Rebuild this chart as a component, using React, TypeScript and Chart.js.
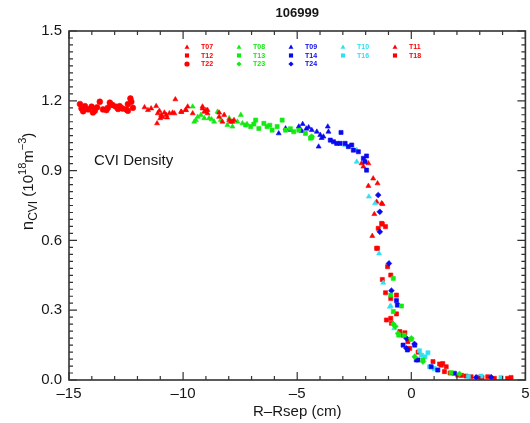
import React, { useEffect, useRef } from 'react';
import { Chart, registerables } from 'chart.js';

Chart.register(...registerables);

// ---------- data ----------
const TITLE = '106999';
const X_TITLE = 'R\u2013Rsep (cm)';
const NOTE = 'CVI Density';
const X_MIN = -15;
const X_MAX = 5;
const X_STEP = 5;
const X_MINOR = 1;
const Y_MIN = 0;
const Y_MAX = 1.5;
const Y_STEP = 0.3;
const Y_MINOR = 0.03;

const T22: [number, number][] = [
  [-14.52, 1.186], [-14.45, 1.167], [-14.38, 1.155], [-14.3, 1.177], [-14.16, 1.163], [-14.01, 1.175],
  [-13.95, 1.15], [-13.87, 1.157], [-13.77, 1.172], [-13.65, 1.196], [-13.51, 1.163], [-13.36, 1.16],
  [-13.3, 1.17], [-13.21, 1.192], [-13.1, 1.182], [-12.95, 1.175], [-12.85, 1.165], [-12.78, 1.177],
  [-12.66, 1.167], [-12.49, 1.163], [-12.42, 1.186], [-12.31, 1.21], [-12.27, 1.196], [-12.42, 1.157],
  [-12.2, 1.17],
];
const T07: [number, number][] = [
  [-11.69, 1.172], [-11.54, 1.16], [-11.4, 1.167], [-11.18, 1.177], [-11.11, 1.146], [-11.14, 1.103],
  [-11.04, 1.157], [-10.96, 1.139], [-10.82, 1.149], [-10.74, 1.139], [-10.6, 1.146], [-10.46, 1.149],
  [-10.34, 1.206], [-10.38, 1.146], [-10.09, 1.153], [-9.9, 1.16], [-9.8, 1.175], [-9.58, 1.146],
  [-9.15, 1.175], [-9.07, 1.153], [-8.93, 1.16], [-8.42, 1.149], [-7.98, 1.117], [-7.84, 1.11],
  [-10.9, 1.13], [-11.0, 1.125], [-10.7, 1.128], [-10.07, 1.152], [-9.87, 1.16], [-9.15, 1.167],
  [-9.0, 1.16], [-8.93, 1.146], [-8.42, 1.131], [-8.28, 1.11], [-8.2, 1.139], [-7.91, 1.11], [-7.77, 1.117],
];
const T08: [number, number][] = [
  [-9.58, 1.175], [-9.51, 1.11], [-9.36, 1.131], [-9.22, 1.139], [-9.07, 1.125], [-8.86, 1.125],
  [-8.64, 1.11], [-8.49, 1.153], [-8.35, 1.117], [-8.06, 1.096], [-7.98, 1.125], [-7.84, 1.089],
  [-7.62, 1.11], [-7.47, 1.139], [-7.4, 1.103], [-9.44, 1.117], [-8.75, 1.12], [-7.2, 1.1],
];
const T13: [number, number][] = [
  [-7.26, 1.096], [-7.04, 1.089], [-6.82, 1.117], [-6.68, 1.081], [-6.46, 1.103], [-6.32, 1.089],
  [-6.1, 1.074], [-5.88, 1.089], [-5.66, 1.117], [-5.51, 1.074], [-5.15, 1.067], [-4.93, 1.074],
  [-4.64, 1.06], [-4.42, 1.039], [-4.36, 1.043], [-6.9, 1.1], [-6.2, 1.095], [-5.3, 1.08],
  [-0.79, 0.437], [-0.9, 0.365], [-0.43, 0.318], [-0.79, 0.294], [-0.55, 0.193], [-0.31, 0.193],
  [0.0, 0.175], [0.51, 0.086], [1.74, 0.031],
];
const T23: [number, number][] = [
  [-4.37, 1.046], [-0.79, 0.241], [-0.58, 0.2], [0.15, 0.1], [0.0, 0.179], [-0.7, 0.23],
  [0.51, 0.079], [2.11, 0.026],
];
const T09: [number, number][] = [
  [-5.81, 1.06], [-5.51, 1.081], [-5.3, 1.075], [-4.93, 1.089], [-4.76, 1.1], [-4.5, 1.086],
  [-4.36, 1.074], [-4.14, 1.067], [-3.99, 1.053], [-3.85, 1.046], [-3.66, 1.089], [-3.63, 1.067],
  [-4.06, 1.003], [-3.93, 1.04], [-4.8, 1.07], [-4.6, 1.08],
];
const T14: [number, number][] = [
  [-3.55, 1.031], [-3.41, 1.024], [-3.27, 1.017], [-3.08, 1.064], [-3.12, 1.017], [-2.9, 1.017],
  [-2.76, 1.003], [-2.61, 1.01], [-2.54, 0.988], [-2.32, 0.981], [-2.1, 0.953], [-1.96, 0.963],
  [-2.03, 0.938], [-1.96, 0.902], [-0.65, 0.341], [-0.61, 0.322], [-0.36, 0.15], [-0.17, 0.129],
  [0.22, 0.086], [0.87, 0.057], [1.16, 0.043], [1.89, 0.029], [0.29, 0.086], [0.15, 0.15],
];
const T24: [number, number][] = [
  [-1.45, 0.795], [-1.38, 0.723], [-1.38, 0.637], [-0.98, 0.501], [-0.87, 0.384], [-0.21, 0.179],
  [-0.21, 0.136], [0.14, 0.155], [2.84, 0.011], [3.5, 0.012],
];
const T10: [number, number][] = [
  [-2.9, 1.01], [-2.39, 0.988], [-2.39, 0.938], [-1.86, 0.788], [-1.59, 0.759], [-1.41, 0.544],
  [-1.23, 0.418], [-0.9, 0.318], [-0.75, 0.222], [-0.94, 0.315],
];
const T16: [number, number][] = [
  [0.36, 0.126], [0.44, 0.107], [0.73, 0.117], [0.8, 0.057], [1.16, 0.043], [3.06, 0.017],
  [3.93, 0.011], [0.6, 0.1], [1.0, 0.05], [2.5, 0.015],
];
const T11: [number, number][] = [
  [-2.18, 0.931], [-1.88, 0.931], [-2.1, 0.917], [-1.67, 0.866], [-1.88, 0.834], [-1.48, 0.845],
  [-1.52, 0.766], [-1.26, 0.756], [-1.62, 0.713], [-1.71, 0.619], [-1.3, 0.759],
];
const T12: [number, number][] = [
  [-1.45, 0.652], [-1.27, 0.67], [-1.13, 0.659], [-1.48, 0.566], [-1.52, 0.566], [-1.3, 0.673],
  [-1.04, 0.487], [-0.9, 0.451], [-1.27, 0.432], [-1.13, 0.375], [-0.65, 0.365], [-0.9, 0.35],
  [-0.65, 0.284], [-1.09, 0.258], [-0.9, 0.265], [-0.5, 0.208], [-0.28, 0.203], [-0.87, 0.244],
  [-0.36, 0.193],
];
const T18: [number, number][] = [
  [-0.15, 0.165], [-0.07, 0.136], [0.95, 0.079], [1.24, 0.069], [1.31, 0.064], [1.45, 0.036],
  [1.53, 0.057], [1.38, 0.071], [2.04, 0.021], [2.4, 0.017], [2.62, 0.014], [3.35, 0.014],
  [3.64, 0.007], [4.22, 0.007], [4.37, 0.011], [1.7, 0.03], [2.2, 0.02], [2.9, 0.012], [3.1, 0.01],
  [0.3, 0.12],
];

const RED = '#ff0000';
const GREEN = '#12ea12';
const BLUE = '#0a0aee';
const CYAN = '#30e0f2';

type Series = { label: string; data: [number, number][]; color: string; style: string };
const SERIES: Series[] = [
  { label: 'T22', data: T22, color: RED, style: 'circle' },
  { label: 'T07', data: T07, color: RED, style: 'triangle' },
  { label: 'T08', data: T08, color: GREEN, style: 'triangle' },
  { label: 'T13', data: T13, color: GREEN, style: 'rect' },
  { label: 'T23', data: T23, color: GREEN, style: 'rectRot' },
  { label: 'T09', data: T09, color: BLUE, style: 'triangle' },
  { label: 'T14', data: T14, color: BLUE, style: 'rect' },
  { label: 'T24', data: T24, color: BLUE, style: 'rectRot' },
  { label: 'T10', data: T10, color: CYAN, style: 'triangle' },
  { label: 'T16', data: T16, color: CYAN, style: 'rect' },
  { label: 'T11', data: T11, color: RED, style: 'triangle' },
  { label: 'T12', data: T12, color: RED, style: 'rect' },
  { label: 'T18', data: T18, color: RED, style: 'rect' },
];

const LEGEND_ROWS: string[][] = [
  ['T07', 'T08', 'T09', 'T10', 'T11'],
  ['T12', 'T13', 'T14', 'T16', 'T18'],
  ['T22', 'T23', 'T24'],
];

// ---------- styles ----------
const FONT = '"Liberation Sans", Arial, sans-serif';
const INK = '#161616';

function drawMarker(ctx: CanvasRenderingContext2D, style: string, x: number, y: number, r: number) {
  ctx.beginPath();
  if (style === 'circle') {
    ctx.arc(x, y, r, 0, Math.PI * 2);
  } else if (style === 'triangle') {
    ctx.moveTo(x, y - r);
    ctx.lineTo(x + r * 0.95, y + r * 0.7);
    ctx.lineTo(x - r * 0.95, y + r * 0.7);
  } else if (style === 'rect') {
    const s = r * 0.8;
    ctx.rect(x - s, y - s, 2 * s, 2 * s);
  } else {
    ctx.moveTo(x, y - r);
    ctx.lineTo(x + r, y);
    ctx.lineTo(x, y + r);
    ctx.lineTo(x - r, y);
  }
  ctx.closePath();
  ctx.fill();
}

const decorPlugin = {
  id: 'decor',
  afterDraw(chart: any) {
    const { ctx, chartArea } = chart;
    const { left, right, top, bottom } = chartArea;
    const xs = chart.scales.x;
    const ys = chart.scales.y;
    ctx.save();
    // frame
    ctx.strokeStyle = '#333';
    ctx.lineWidth = 1.6;
    ctx.strokeRect(left, top, right - left, bottom - top);
    // ticks (inward, all four sides)
    ctx.lineWidth = 1.2;
    ctx.beginPath();
    const nx = Math.round((X_MAX - X_MIN) / X_MINOR);
    for (let i = 0; i <= nx; i++) {
      const v = X_MIN + i * X_MINOR;
      const px = xs.getPixelForValue(v);
      const len = Math.abs(v / X_STEP - Math.round(v / X_STEP)) < 1e-6 ? 8 : 4;
      ctx.moveTo(px, bottom);
      ctx.lineTo(px, bottom - len);
      ctx.moveTo(px, top);
      ctx.lineTo(px, top + len);
    }
    const ny = Math.round((Y_MAX - Y_MIN) / Y_MINOR);
    for (let i = 0; i <= ny; i++) {
      const v = Y_MIN + i * Y_MINOR;
      const py = ys.getPixelForValue(v);
      const len = i % Math.round(Y_STEP / Y_MINOR) === 0 ? 8 : 4;
      ctx.moveTo(left, py);
      ctx.lineTo(left + len, py);
      ctx.moveTo(right, py);
      ctx.lineTo(right - len, py);
    }
    ctx.stroke();

    // annotation
    ctx.fillStyle = INK;
    ctx.font = `15px ${FONT}`;
    ctx.textAlign = 'left';
    ctx.textBaseline = 'middle';
    ctx.fillText(NOTE, left + 25, top + 130);

    // legend
    ctx.font = `bold 7px ${FONT}`;
    LEGEND_ROWS.forEach((row, ri) => {
      row.forEach((lab, ci) => {
        const s = SERIES.find((q) => q.label === lab);
        if (!s) return;
        const mx = left + 118 + ci * 52;
        const my = top + 16 + ri * 8.5;
        ctx.fillStyle = s.color;
        drawMarker(ctx, s.style, mx, my, 2.6);
        ctx.textBaseline = 'middle';
        ctx.fillText(lab, mx + 14, my + 0.5);
      });
    });

    // y axis title with sub/superscripts
    const pieces = [
      { t: 'n', size: 17, dy: 0 },
      { t: 'CVI', size: 12, dy: 4 },
      { t: ' (10', size: 15, dy: 0 },
      { t: '18', size: 11, dy: -7 },
      { t: 'm', size: 15, dy: 0 },
      { t: '\u22123', size: 11, dy: -7 },
      { t: ')', size: 15, dy: 0 },
    ];
    let total = 0;
    const widths = pieces.map((p) => {
      ctx.font = `${p.size}px ${FONT}`;
      const w = ctx.measureText(p.t).width;
      total += w;
      return w;
    });
    ctx.translate(33, (top + bottom) / 2 - 24);
    ctx.rotate(-Math.PI / 2);
    ctx.fillStyle = INK;
    ctx.textBaseline = 'alphabetic';
    let u = -total / 2;
    pieces.forEach((p, i) => {
      ctx.font = `${p.size}px ${FONT}`;
      ctx.fillText(p.t, u, p.dy);
      u += widths[i];
    });
    ctx.restore();
  },
};

export default function App() {
  const ref = useRef<HTMLCanvasElement | null>(null);
  useEffect(() => {
    if (!ref.current) return;
    const chart = new Chart(ref.current, {
      type: 'scatter',
      data: {
        datasets: SERIES.map((s) => ({
          label: s.label,
          data: s.data.map(([x, y]) => ({ x, y })),
          pointStyle: s.style as any,
          backgroundColor: s.color,
          borderColor: s.color,
          borderWidth: 0.6,
          pointRadius: 2.9,
          showLine: false,
        })),
      },
      options: {
        animation: false,
        responsive: false,
        events: [],
        layout: { padding: { left: 0, right: 2, top: 0, bottom: 0 } },
        plugins: {
          legend: { display: false },
          tooltip: { enabled: false },
          title: {
            display: true,
            text: TITLE,
            fullSize: false,
            color: INK,
            font: { family: FONT, size: 13, weight: 'bold', lineHeight: 1.2 },
            padding: { top: 6, bottom: 9.4 },
          },
        },
        scales: {
          x: {
            type: 'linear',
            min: X_MIN,
            max: X_MAX,
            afterFit: (s: any) => { s.height = 43; s.paddingRight = 0; s.paddingLeft = 0; },
            grid: { display: false, drawTicks: false },
            border: { display: false },
            ticks: {
              stepSize: X_STEP,
              padding: 5,
              color: INK,
              font: { family: FONT, size: 15 },
              callback: (v: any) => { const n = Number(v); return n < 0 ? '\u2013' + Math.abs(n) : String(n); },
            },
            title: {
              display: true,
              text: X_TITLE,
              color: INK,
              font: { family: FONT, size: 15, lineHeight: 1.2 },
              padding: { top: 0, bottom: 2 },
            },
          },
          y: {
            type: 'linear',
            min: Y_MIN,
            max: Y_MAX,
            afterFit: (s: any) => { s.width = 69; },
            grid: { display: false, drawTicks: false },
            border: { display: false },
            ticks: {
              stepSize: Y_STEP,
              padding: 7,
              color: INK,
              font: { family: FONT, size: 15 },
              callback: (v: any) => Number(v).toFixed(1),
            },
          },
        },
      },
      plugins: [decorPlugin],
    });
    return () => chart.destroy();
  }, []);
  return (
    <div style={{ position: 'fixed', left: 0, top: 0, width: 530, height: 423, background: '#fff' }}>
      <canvas ref={ref} width={530} height={423} style={{ display: 'block' }} />
    </div>
  );
}
